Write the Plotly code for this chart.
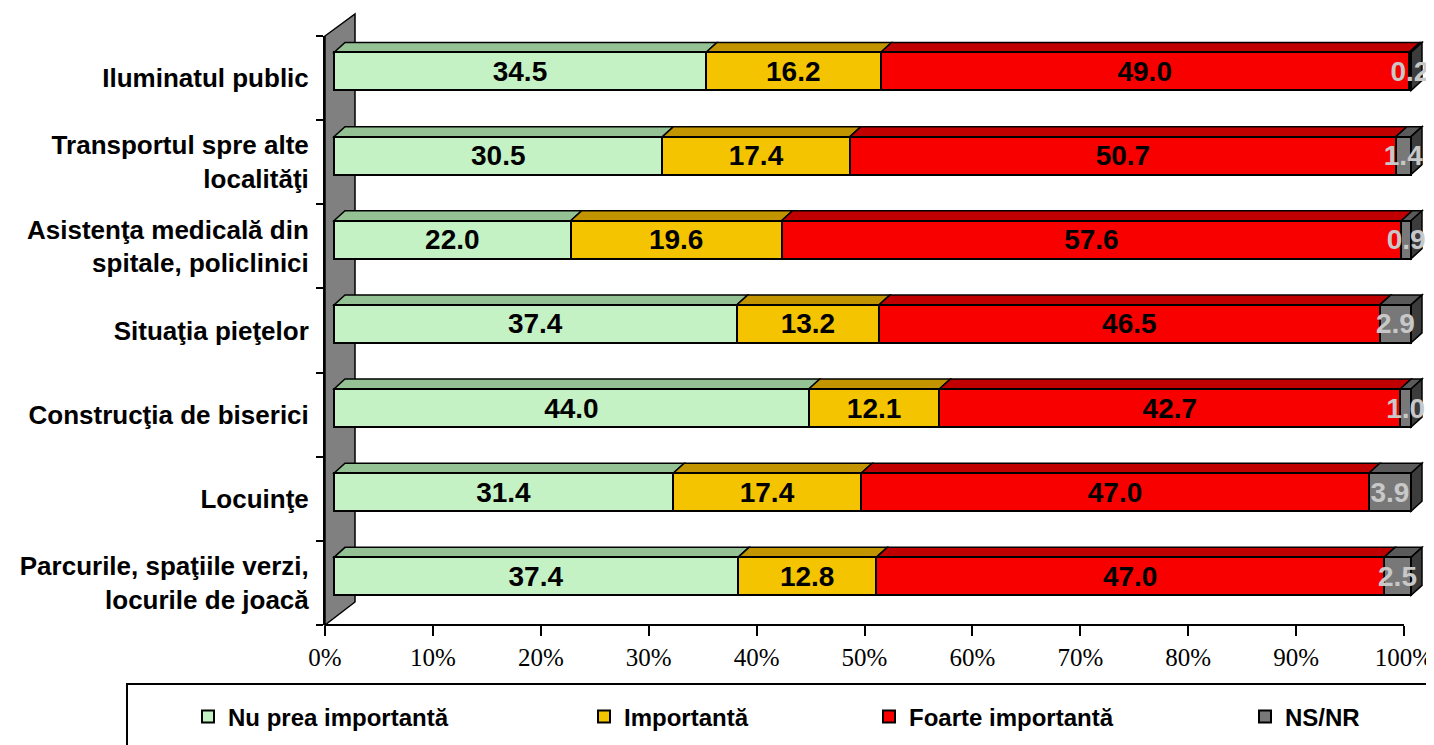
import plotly.graph_objects as go

categories = [
    "Iluminatul public",
    "Transportul spre alte<br>localităţi",
    "Asistenţa medicală din<br>spitale, policlinici",
    "Situaţia pieţelor",
    "Construcţia de biserici",
    "Locuinţe",
    "Parcurile, spaţiile verzi,<br>locurile de joacă",
]
series_names = ["Nu prea importantă", "Importantă", "Foarte importantă", "NS/NR"]
nu_prea = [34.5, 30.5, 22.0, 37.4, 44.0, 31.4, 37.4]
importanta = [16.2, 17.4, 19.6, 13.2, 12.1, 17.4, 12.8]
foarte = [49.0, 50.7, 57.6, 46.5, 42.7, 47.0, 47.0]
nsnr = [0.2, 1.4, 0.9, 2.9, 1.0, 3.9, 2.5]
x_ticks = [0, 10, 20, 30, 40, 50, 60, 70, 80, 90, 100]
x_tick_labels = [f"{v}%" for v in x_ticks]

series = [nu_prea, importanta, foarte, nsnr]
front_colors = ["#c4f2c4", "#f4c400", "#f80000", "#787878"]
top_colors = ["#95c295", "#c29400", "#c00000", "#5a5a5a"]
side_color = "#3c3c3c"
text_colors = ["black", "black", "black", "#c8c8c8"]
SANS = "Liberation Sans, Arial, sans-serif"
SERIF = "Liberation Serif, Times New Roman, serif"

# page offset (browser body margin) and geometry in screenshot pixels
OFF = 8
SW, SH = 1434, 745
W, H = SW - OFF, SH - OFF
L_px, T_px, B_px = 325, 36, 625      # plot area edges in screenshot pixels
L = L_px - OFF
T = T_px - OFF
B = H - (B_px - OFF)
R = 0
plot_w = W - L - R
plot_h = H - T - B
x_end_px = 1404          # screenshot pixel of 100% tick
bar0_px, bar100_px = 334, 1411   # front face of bars
xr_max = 100 * plot_w / (x_end_px - L_px)
x2_lo = (L_px - bar0_px) / (bar100_px - bar0_px) * 100
x2_hi = (L_px + plot_w - bar0_px) / (bar100_px - bar0_px) * 100
ypx = plot_h / len(categories)
bar_w = 38 / ypx
bar_off = -0.304
dx = 11 * (x2_hi - x2_lo) / plot_w
dy = 10 / ypx

ypos = list(range(len(categories)))

fig = go.Figure()
legend_ids = ["legend", "legend2", "legend3", "legend4"]
for k, (name, vals) in enumerate(zip(series_names, series)):
    fig.add_trace(go.Bar(
        y=ypos, x=vals, name=name, orientation="h",
        xaxis="x2", yaxis="y",
        width=bar_w, offset=bar_off,
        marker=dict(color=front_colors[k], line=dict(color="black", width=2)),
        text=[f"{v:.1f}" for v in vals],
        textposition="inside", insidetextanchor="middle", textangle=0,
        constraintext="none", cliponaxis=False,
        textfont=dict(family=SANS, size=28, color=text_colors[k], weight="bold"),
        legend=legend_ids[k],
        hoverinfo="skip",
    ))

def px2paper(px, py):
    # screenshot pixel -> paper coords
    return (px - L_px) / plot_w, (B_px - py) / plot_h

shapes = []
wall = [px2paper(325, 36), px2paper(355, 14), px2paper(355, 602), px2paper(325, 625)]
shapes.append(dict(type="path", xref="paper", yref="paper",
                   path="M" + " L".join(f"{a:.5f},{b:.5f}" for a, b in wall) + " Z",
                   fillcolor="#808080", line=dict(color="black", width=1.5), layer="below"))

for i in ypos:
    row = [s[i] for s in series]
    tot = sum(row)
    yt = i + bar_off
    yb = yt + bar_w
    cum = 0
    for k, v in enumerate(row):
        s = cum / tot * 100
        e = (cum + v) / tot * 100
        cum += v
        shapes.append(dict(type="path", xref="x2", yref="y",
                           path=f"M{s},{yt} L{e},{yt} L{e+dx},{yt-dy} L{s+dx},{yt-dy} Z",
                           fillcolor=top_colors[k], line=dict(color="black", width=1.5), layer="below"))
    shapes.append(dict(type="path", xref="x2", yref="y",
                       path=f"M100,{yt} L{100+dx},{yt-dy} L{100+dx},{yb-dy} L100,{yb} Z",
                       fillcolor=side_color, line=dict(color="black", width=1.5), layer="below"))

shapes.append(dict(type="line", xref="x", yref="paper", x0=0, x1=100, y0=0, y1=0,
                   line=dict(color="black", width=2)))
lx0, ly0 = px2paper(127, 684)
lx1, ly1 = px2paper(1440, 752)
shapes.append(dict(type="rect", xref="paper", yref="paper", x0=lx0, y0=ly1, x1=lx1, y1=ly0,
                   line=dict(color="black", width=2), fillcolor="rgba(0,0,0,0)"))

legend_px = [188, 584, 869, 1245]
leg_y = px2paper(0, 717)[1]
legends = {}
for lid, lp in zip(legend_ids, legend_px):
    legends[lid] = dict(x=px2paper(lp, 0)[0], y=leg_y, xanchor="left", yanchor="middle",
                        orientation="h", bgcolor="rgba(0,0,0,0)", borderwidth=0,
                        font=dict(family=SANS, size=24, color="black", weight="bold"))

fig.update_layout(
    width=W, height=H,
    margin=dict(l=L, r=R, t=T, b=B, pad=0, autoexpand=False),
    barmode="stack", barnorm="percent",
    paper_bgcolor="white", plot_bgcolor="rgba(0,0,0,0)",
    showlegend=True,
    shapes=shapes,
    xaxis=dict(range=[0, xr_max], tickvals=x_ticks, ticktext=x_tick_labels,
               ticks="outside", ticklen=10, tickwidth=2, tickcolor="black",
               showgrid=False, zeroline=False, showline=False,
               tickfont=dict(family=SERIF, size=25, color="black")),
    xaxis2=dict(range=[x2_lo, x2_hi], overlaying="x", visible=False, showgrid=False, zeroline=False),
    yaxis=dict(range=[len(categories) - 0.5, -0.5], tickvals=ypos, ticktext=categories,
               ticks="", showgrid=False, zeroline=False,
               showline=True, linecolor="black", linewidth=2,
               ticklabelstandoff=9,
               minor=dict(tickvals=[i - 0.5 for i in range(len(categories) + 1)],
                          ticks="outside", ticklen=7, tickwidth=2, tickcolor="black"),
               tickfont=dict(family=SANS, size=26, color="black", weight="bold")),
    **legends,
)

fig.write_html("out.html")
